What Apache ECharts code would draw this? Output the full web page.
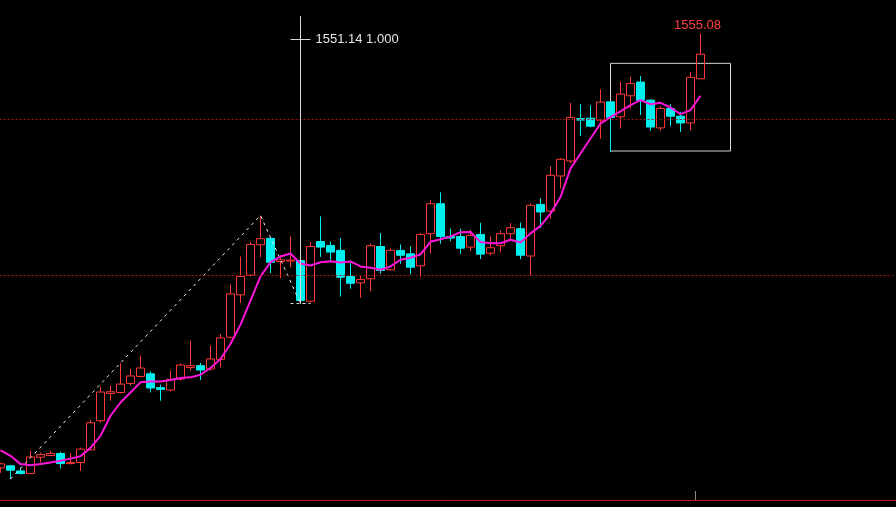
<!DOCTYPE html>
<html>
<head>
<meta charset="utf-8">
<script src="https://cdn.jsdelivr.net/npm/echarts@6/dist/echarts.min.js"></script>
<style>
html,body{margin:0;padding:0;background:#000;}
#chart{width:896px;height:507px;}
</style>
</head>
<body>
<div id="chart"></div>
<script>
// ---- data ----
var opens  = [1276.7,1278.0,1274.7,1273.0,1283.5,1284.6,1285.9,1279.4,1280.1,1288.2,
              1306.9,1324.4,1325.0,1330.8,1335.3,1337.0,1328.1,1326.6,1333.6,1341.1,
              1342.2,1340.1,1346.2,1360.4,1387.6,1400.2,1419.7,1423.8,1409.0,1409.3,
              1409.6,1383.5,1421.8,1419.3,1416.1,1399.4,1395.3,1397.9,1418.6,1403.7,
              1416.1,1413.9,1406.2,1426.8,1446.0,1425.0,1425.0,1418.2,1426.3,1414.3,
              1419.1,1426.8,1430.0,1412.5,1445.6,1441.3,1463.8,1473.4,1500.6,1500.8,
              1499.6,1511.3,1501.7,1515.2,1524.0,1512.4,1494.6,1507.1,1502.1,1497.8,
              1526.1];
var closes = [1279.3,1275.2,1273.0,1283.7,1285.2,1285.9,1279.4,1280.1,1288.7,1305.6,
              1325.3,1325.5,1330.4,1335.6,1340.7,1327.9,1327.0,1333.4,1342.6,1342.2,
              1339.4,1346.5,1360.0,1388.2,1399.4,1419.9,1423.6,1408.5,1410.1,1409.9,
              1383.9,1418.6,1418.2,1415.0,1398.9,1395.0,1397.4,1419.1,1403.2,1416.1,
              1413.0,1405.3,1426.3,1446.0,1425.0,1424.0,1417.5,1425.7,1413.7,1417.8,
              1426.8,1430.6,1413.0,1445.0,1440.7,1464.2,1474.5,1501.3,1499.6,1495.7,
              1511.1,1501.3,1516.3,1523.1,1512.4,1495.2,1507.1,1502.1,1497.8,1527.0,
              1541.9];
var lows   = [1273.5,1269.6,1272.6,1272.6,1280.1,1284.4,1276.2,1279.0,1274.7,1287.9,
              1305.8,1319.7,1324.4,1329.3,1334.7,1325.0,1319.7,1325.7,1332.6,1339.0,
              1333.0,1339.0,1341.1,1359.5,1382.5,1399.4,1411.7,1401.5,1398.3,1405.3,
              1382.0,1382.7,1411.9,1409.6,1386.5,1391.5,1385.7,1389.9,1401.1,1403.2,
              1407.5,1400.6,1399.0,1414.3,1420.4,1422.0,1413.9,1415.6,1410.5,1413.0,
              1415.0,1422.5,1410.5,1400.0,1430.5,1436.4,1455.7,1472.1,1489.3,1494.9,
              1487.7,1479.0,1494.2,1507.1,1502.8,1492.7,1492.7,1495.7,1492.0,1493.1,
              1526.0];
var highs  = [1279.9,1278.3,1276.9,1287.6,1286.5,1287.6,1286.9,1286.3,1289.7,1307.5,
              1328.7,1329.3,1343.7,1340.1,1348.6,1338.5,1330.0,1339.0,1343.7,1358.2,
              1343.9,1355.0,1362.5,1394.2,1412.2,1421.4,1438.5,1424.0,1412.8,1425.0,
              1410.5,1421.4,1437.9,1421.8,1424.2,1407.9,1400.0,1420.5,1427.2,1417.5,
              1419.9,1418.6,1427.2,1448.2,1453.3,1430.0,1430.0,1429.3,1433.8,1425.0,
              1428.9,1433.6,1434.0,1446.2,1449.5,1470.0,1475.3,1510.7,1509.8,1509.2,
              1519.3,1511.5,1524.2,1527.4,1527.8,1513.0,1508.5,1509.8,1504.9,1530.6,
              1555.08];
var ma5    = [1287.9,1284.4,1279.1,1278.4,1279.1,1280.1,1281.2,1282.6,1284.1,1289.5,
              1297.2,1310.1,1318.6,1325.0,1331.5,1332.1,1332.1,1333.0,1334.3,1334.7,
              1336.4,1340.7,1346.5,1356.1,1368.5,1383.9,1399.4,1408.5,1412.2,1414.1,
              1407.7,1406.4,1408.5,1409.2,1408.3,1409.0,1405.8,1404.9,1403.7,1405.8,
              1410.1,1411.4,1413.5,1421.6,1423.2,1425.0,1427.8,1427.9,1421.4,1420.7,
              1420.7,1422.9,1421.1,1427.0,1431.8,1439.6,1450.3,1468.5,1478.2,1487.8,
              1497.4,1501.5,1505.2,1509.2,1512.4,1509.8,1510.7,1507.7,1503.4,1506.0,
              1515.2];
var gridPrices = [1400, 1500];
var crossPrice = 1551.14;
var crossText = '1551.14 1.000';
var crossTop = 1566.3;
var boxTop = 1536.0, boxBottom = 1479.8;
var boxFrom = 61, boxTo = 73;
var swingIdx = [1, 26, 30];   // low, high, low of the dashed zig-zag
var crossIdx = 30;
var slotCount = 90;
var yMin = 1256.09, yMax = 1576.603;

var categories = [];
for (var i = 0; i < slotCount; i++) categories.push('K' + (i + 1));

var kdata = [];
for (var j = 0; j < opens.length; j++) kdata.push([opens[j], closes[j], lows[j], highs[j]]);

var zig = [];
for (var k = 0; k < opens.length; k++) zig.push(null);
zig[swingIdx[0]] = lows[swingIdx[0]];
zig[swingIdx[1]] = highs[swingIdx[1]];
zig[swingIdx[2]] = lows[swingIdx[2]];

var chart = echarts.init(document.getElementById('chart'), null, {renderer: 'canvas'});
var FONT = "'Liberation Sans', Arial, sans-serif";

var option = {
  backgroundColor: '#000000',
  animation: false,
  grid: {left: -4.5, width: 900, top: 0, height: 500, outerBoundsMode: 'none', containLabel: false},
  xAxis: {
    type: 'category', data: categories, boundaryGap: true,
    axisLine: {show: true, lineStyle: {color: '#d01414', width: 1}},
    axisTick: {show: false}, axisLabel: {show: false}, splitLine: {show: false}
  },
  yAxis: {
    type: 'value', min: yMin, max: yMax, show: false,
    splitLine: {show: false}
  },
  series: [
    {
      type: 'candlestick',
      data: kdata,
      barWidth: 8,
      z: 2,
      itemStyle: {
        color: 'rgba(0,0,0,0)', color0: '#00f0f0',
        borderColor: '#ff3838', borderColor0: '#00f0f0', borderWidth: 1
      },
      markLine: {
        silent: true, symbol: ['none', 'none'], animation: false,
        label: {show: false},
        data: [
          {yAxis: gridPrices[0], lineStyle: {color: '#a01414', type: [2, 2], width: 1}},
          {yAxis: gridPrices[1], lineStyle: {color: '#a01414', type: [2, 2], width: 1}},
          [
            {coord: [categories[crossIdx], lows[crossIdx]], lineStyle: {color: '#d8d8d8', type: 'solid', width: 1}},
            {coord: [categories[crossIdx], crossTop]}
          ],
          [
            {coord: [categories[crossIdx - 1], crossPrice], lineStyle: {color: '#d8d8d8', type: 'solid', width: 1},
             label: {show: true, position: 'end', formatter: crossText, color: '#e2e6ea', fontSize: 13, fontFamily: FONT, distance: 5}},
            {coord: [categories[crossIdx + 1], crossPrice]}
          ],
          [
            {coord: [categories[crossIdx - 1], lows[crossIdx]], lineStyle: {color: '#e0e0e0', type: [3, 3], width: 1}},
            {coord: [categories[crossIdx + 1], lows[crossIdx]]}
          ]
        ]
      },
      markArea: {
        silent: true,
        itemStyle: {color: 'rgba(0,0,0,0)', borderColor: '#d4d4d4', borderWidth: 1},
        data: [[
          {coord: [categories[boxFrom], boxTop]},
          {coord: [categories[boxTo], boxBottom]}
        ]]
      },
      markPoint: {
        silent: true,
        symbol: 'rect', symbolSize: [1, 1],
        itemStyle: {color: 'rgba(0,0,0,0)'},
        label: {show: true, position: 'top', distance: 1, offset: [-3, 0], color: '#ff4040', fontSize: 13, fontFamily: FONT,
                formatter: function (p) { return p.value.toFixed(2); }},
        data: [{coord: [categories[opens.length - 1], highs[opens.length - 1]], value: highs[opens.length - 1]}]
      }
    },
    {
      type: 'line', data: zig, connectNulls: true, showSymbol: false, symbol: 'none', z: 3,
      lineStyle: {color: '#f0f0f0', width: 1, type: [3, 4]}, silent: true
    },
    {
      type: 'line', data: ma5, showSymbol: false, symbol: 'none', z: 4, smooth: false,
      lineStyle: {color: '#ff14dc', width: 2}, silent: true
    }
  ]
};
chart.setOption(option);

// small grey tick on the bottom axis between the last two candles
var pa = chart.convertToPixel({xAxisIndex: 0}, categories[opens.length - 2]);
var pb = chart.convertToPixel({xAxisIndex: 0}, categories[opens.length - 1]);
var yb = chart.convertToPixel({yAxisIndex: 0}, yMin);
var tx = Math.floor((pa + pb) / 2) + 0.5;
chart.setOption({
  graphic: [{
    type: 'line', silent: true,
    shape: {x1: tx, y1: yb - 9, x2: tx, y2: yb},
    style: {stroke: '#8c8c8c', lineWidth: 1}
  }]
});
</script>
</body>
</html>
